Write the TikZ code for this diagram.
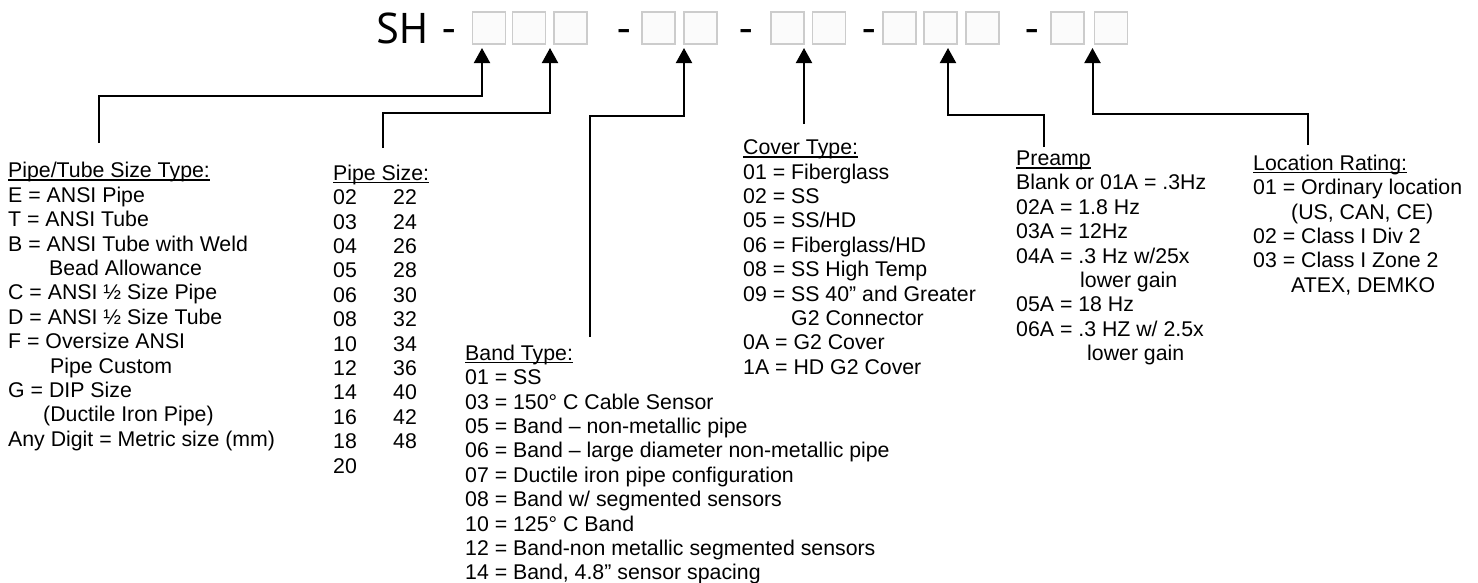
\documentclass[tikz,border=0pt]{standalone}
\usepackage{fontspec}
\setmainfont{Liberation Sans}
\newfontfamily\codefont{PT Sans}
\usetikzlibrary{arrows.meta}
\tikzset{
  digit/.style={draw=gray!40, fill=gray!3, line width=1.4pt, minimum width=33pt, minimum height=32pt, inner sep=0pt},
  legend/.style={anchor=north west, align=left, inner sep=0pt, font=\fontsize{21.3}{24.4}\selectfont},
  code/.style={anchor=base, inner sep=0pt, font=\codefont\fontsize{43}{43}\selectfont},
  conn/.style={line width=2pt},
  tip/.style={conn, -{Triangle[width=16pt,length=15pt]}}
}
\newcommand{\ulhead}[1]{\setbox0\hbox{#1}\rlap{\rule[-3pt]{\wd0}{1.5pt}}\box0}
\begin{document}
\begin{tikzpicture}[x=1pt, y=-1pt]
    \useasboundingbox (0,0) rectangle (1478,582);

    % Part number code
    \node[code, anchor=base west] (sh) at (376,43.5) {SH};
    \foreach \n/\cx in {1/449, 2/624.5, 3/746.5, 4/869, 5/1032} {
        \node[code] (d\n) at (\cx,43.5) {-};
    }
    \foreach \n/\cx in {1/489, 2/529, 3/570.5, 4/658.5, 5/700.5, 6/787.5, 7/829,
                        8/899.5, 9/940.5, 10/982.5, 11/1067.5, 12/1111} {
        \node[digit] (b\n) at (\cx,28) {};
    }

    % Arrow tips under the boxes
    \coordinate (t1) at (482,48);
    \coordinate (t2) at (550,48);
    \coordinate (t3) at (684,48);
    \coordinate (t4) at (804,48);
    \coordinate (t5) at (948,48);
    \coordinate (t6) at (1092.5,48);

    % Legends
    \node[legend] (pt) at (8,162.3) {\ulhead{Pipe/Tube Size Type:}\\
        E = ANSI Pipe\\
        T = ANSI Tube\\
        B = ANSI Tube with Weld\\
        \hspace*{41pt}Bead Allowance\\
        C = ANSI ½ Size Pipe\\
        D = ANSI ½ Size Tube\\
        F = Oversize ANSI\\
        \hspace*{42pt}Pipe Custom\\
        G = DIP Size\\
        \hspace*{35pt}(Ductile Iron Pipe)\\
        Any Digit = Metric size (mm)};

    \node[legend] (ps) at (333,164.7) {\ulhead{Pipe Size:}\\
        \makebox[60pt][l]{02}22\\
        \makebox[60pt][l]{03}24\\
        \makebox[60pt][l]{04}26\\
        \makebox[60pt][l]{05}28\\
        \makebox[60pt][l]{06}30\\
        \makebox[60pt][l]{08}32\\
        \makebox[60pt][l]{10}34\\
        \makebox[60pt][l]{12}36\\
        \makebox[60pt][l]{14}40\\
        \makebox[60pt][l]{16}42\\
        \makebox[60pt][l]{18}48\\
        20};

    \node[legend] (band) at (465,344.7) {\ulhead{Band Type:}\\
        01 = SS\\
        03 = 150° C Cable Sensor\\
        05 = Band – non-metallic pipe\\
        06 = Band – large diameter non-metallic pipe\\
        07 = Ductile iron pipe configuration\\
        08 = Band w/ segmented sensors\\
        10 = 125° C Band\\
        12 = Band-non metallic segmented sensors\\
        14 = Band, 4.8” sensor spacing};

    \node[legend] (cover) at (743,139.7) {\ulhead{Cover Type:}\\
        01 = Fiberglass\\
        02 = SS\\
        05 = SS/HD\\
        06 = Fiberglass/HD\\
        08 = SS High Temp\\
        09 = SS 40” and Greater\\
        \hspace*{48pt}G2 Connector\\
        0A = G2 Cover\\
        1A = HD G2 Cover};

    \node[legend] (preamp) at (1016,150.7) {\ulhead{Preamp}\\
        Blank or 01A = .3Hz\\
        02A = 1.8 Hz\\
        03A = 12Hz\\
        04A = .3 Hz w/25x\\
        \hspace*{64pt}lower gain\\
        05A = 18 Hz\\
        06A = .3 HZ w/ 2.5x\\
        \hspace*{71pt}lower gain};

    \node[legend] (loc) at (1253,154.7) {\ulhead{Location Rating:}\\
        01 = Ordinary location\\
        \hspace*{38pt}(US, CAN, CE)\\
        02 = Class I Div 2\\
        03 = Class I Zone 2\\
        \hspace*{38pt}ATEX, DEMKO};

    % Leader lines
    \draw[tip] ([shift={(91,-19.3)}]pt.north west) -- ++(0,-47) -| (t1);
    \draw[tip] ([shift={(50,-16.7)}]ps.north west) -- ++(0,-35) -| (t2);
    \draw[tip] ([shift={(125,-7.7)}]band.north west) -- ++(0,-221) -| (t3);
    \draw[tip] ([shift={(61,-15.7)}]cover.north west) -- (t4);
    \draw[tip] ([shift={(28,-3.7)}]preamp.north west) -- ++(0,-32) -| (t5);
    \draw[tip] ([shift={(55,-9.7)}]loc.north west) -- ++(0,-31) -| (t6);
\end{tikzpicture}
\end{document}
